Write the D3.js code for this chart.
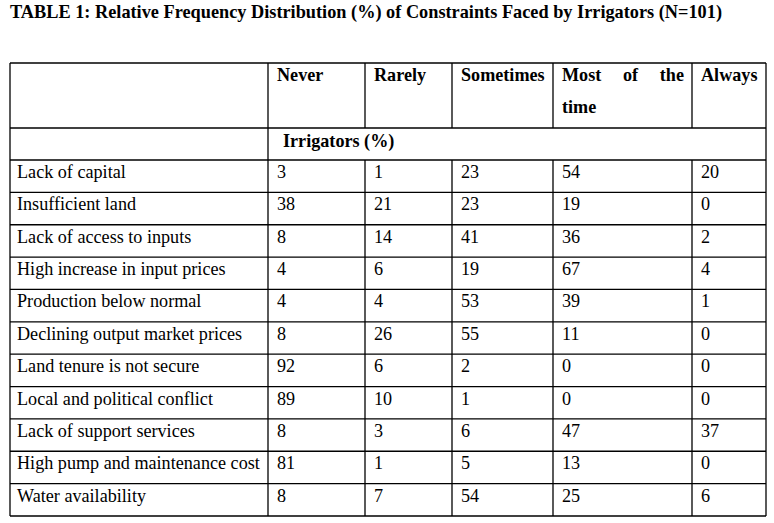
<!DOCTYPE html>
<html>
<head>
<meta charset="utf-8">
<script src="https://cdn.jsdelivr.net/npm/d3@7"></script>
<style>
  body { margin: 0; background: #fff; }
  svg text { font-family: 'Liberation Serif', 'Times New Roman', serif; fill: #000; }
</style>
</head>
<body>
<div class="table_container"></div>
<script>
// 資料
const title = 'TABLE 1: Relative Frequency Distribution (%) of Constraints Faced by Irrigators (N=101)'
const subHeader = 'Irrigators (%)'
const columns = ['Never', 'Rarely', 'Sometimes', 'Most of the time', 'Always']
const constraints = [
    'Lack of capital',
    'Insufficient land',
    'Lack of access to inputs',
    'High increase in input prices',
    'Production below normal',
    'Declining output market prices',
    'Land tenure is not secure',
    'Local and political conflict',
    'Lack of support services',
    'High pump and maintenance cost',
    'Water availability'
]
const never = [3, 38, 8, 4, 4, 8, 92, 89, 8, 81, 8]
const rarely = [1, 21, 14, 6, 4, 26, 6, 10, 3, 1, 7]
const sometimes = [23, 23, 41, 19, 53, 55, 2, 1, 6, 5, 54]
const mostOfTheTime = [54, 19, 36, 67, 39, 11, 0, 0, 47, 13, 25]
const always = [20, 0, 2, 4, 1, 0, 0, 0, 37, 0, 6]

const seriesValues = [never, rarely, sometimes, mostOfTheTime, always]

function setupTable() {
    const svg_width = 774
    const svg_height = 523
    const fontSize = 18.15

    const svg = d3.select('.table_container').append('svg')
        .attr('width', svg_width).attr('height', svg_height)

    // 欄位位置
    const keys = ['label'].concat(columns)
    const colEdges = [10, 268, 365, 452, 553, 692, 766]
    const xScale = d3.scaleOrdinal().domain(keys).range(colEdges.slice(0, -1))
    const xRight = d3.scaleOrdinal().domain(keys).range(colEdges.slice(1))

    // 列位置
    const tableTop = 63
    const headerBottom = 128
    const subBottom = 160
    const tableBottom = 516
    const yScale = d3.scaleBand().domain(constraints).range([subBottom, tableBottom])

    // title
    svg.append('text')
        .attr('x', 10).attr('y', 18)
        .style('font-size', '18.3px').style('font-weight', 'bold')
        .text(title)

    const grid = svg.append('g').attr('class', 'grid')
        .style('stroke', '#000').style('stroke-width', 1.3).attr('fill', 'none')

    // horizontal lines
    const hLines = [tableTop, headerBottom, subBottom]
        .concat(constraints.map(d => yScale(d) + yScale.bandwidth()))
    grid.selectAll('.hline').data(hLines).enter().append('line')
        .attr('class', 'hline')
        .attr('x1', colEdges[0]).attr('x2', colEdges[colEdges.length - 1])
        .attr('y1', d => d).attr('y2', d => d)

    // vertical lines: header + body
    const vLinesFull = [colEdges[0], colEdges[1], colEdges[colEdges.length - 1]]
    grid.selectAll('.vfull').data(vLinesFull).enter().append('line')
        .attr('class', 'vfull')
        .attr('x1', d => d).attr('x2', d => d)
        .attr('y1', tableTop).attr('y2', tableBottom)
    const inner = colEdges.slice(2, -1)
    grid.selectAll('.vhead').data(inner).enter().append('line')
        .attr('class', 'vhead')
        .attr('x1', d => d).attr('x2', d => d)
        .attr('y1', tableTop).attr('y2', headerBottom)
    grid.selectAll('.vbody').data(inner).enter().append('line')
        .attr('class', 'vbody')
        .attr('x1', d => d).attr('x2', d => d)
        .attr('y1', subBottom).attr('y2', tableBottom)

    const pad = 9

    // header
    const header = svg.append('g').attr('class', 'header')
        .style('font-size', `${fontSize}px`).style('font-weight', 'bold')
    columns.forEach(c => {
        const x0 = xScale(c) + pad
        const x1 = xRight(c) - 8
        if (c === 'Most of the time') {
            // 兩端對齊
            const words = ['Most', 'of', 'the']
            const t = words.map(w => header.append('text').attr('y', tableTop + 18).text(w))
            const widths = t.map(n => n.node().getComputedTextLength())
            const gap = (x1 - x0 - d3.sum(widths)) / (words.length - 1)
            let x = x0
            t.forEach((n, i) => { n.attr('x', x); x += widths[i] + gap })
            header.append('text').attr('x', x0).attr('y', tableTop + 50).text('time')
        } else {
            header.append('text').attr('x', x0).attr('y', tableTop + 18).text(c)
        }
    })

    svg.append('text')
        .attr('x', xScale('Never') + 15).attr('y', headerBottom + 19)
        .style('font-size', `${fontSize}px`).style('font-weight', 'bold')
        .text(subHeader)

    // body
    const body = svg.append('g').attr('class', 'body').style('font-size', `${fontSize}px`)
    body.selectAll('.label').data(constraints).enter().append('text')
        .attr('class', 'label')
        .attr('x', xScale('label') + 7)
        .attr('y', d => yScale(d) + 18)
        .text(d => d)

    columns.forEach((c, ci) => {
        body.selectAll(`.cell-${ci}`).data(seriesValues[ci]).enter().append('text')
            .attr('class', `cell-${ci}`)
            .attr('x', xScale(c) + pad)
            .attr('y', (d, i) => yScale(constraints[i]) + 18)
            .text(d => d)
    })
}

setupTable()
</script>
</body>
</html>
